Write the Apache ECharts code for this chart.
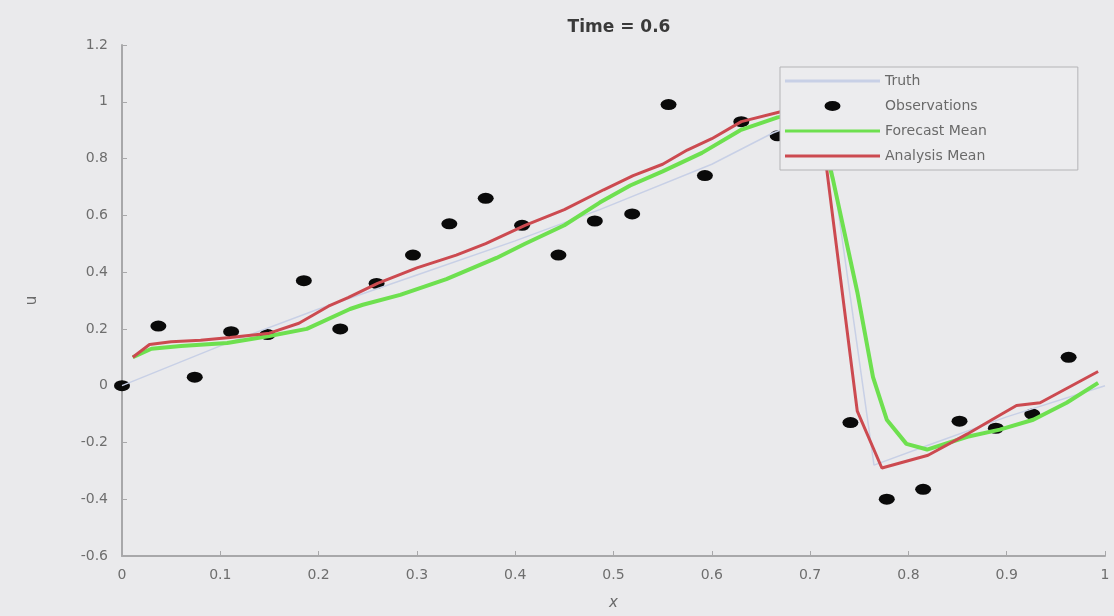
<!DOCTYPE html>
<html>
<head>
<meta charset="utf-8">
<script src="https://cdn.jsdelivr.net/npm/echarts@6/dist/echarts.min.js"></script>
<style>
  html, body { margin: 0; padding: 0; background: #eaeaec; }
  #chart { width: 1114px; height: 616px; }
</style>
</head>
<body>
<div id="chart"></div>
<script>
// observations, every 1/27 along x (the one near 0.70 sits under the legend)
const obsX = [0, 0.037, 0.074, 0.111, 0.148, 0.185, 0.222, 0.259, 0.296, 0.333, 0.370, 0.407, 0.444, 0.481,
  0.519, 0.556, 0.593, 0.630, 0.667, 0.704, 0.741, 0.778, 0.815, 0.852, 0.889, 0.926, 0.963]
const obsU = [0, 0.21, 0.03, 0.19, 0.18, 0.37, 0.20, 0.36, 0.46, 0.57, 0.66, 0.565, 0.46, 0.58,
  0.605, 0.99, 0.74, 0.93, 0.88, 0.98, -0.13, -0.40, -0.365, -0.125, -0.15, -0.10, 0.10]

// truth (thin light line)
const truthX = [0, 0.1, 0.2, 0.3, 0.4, 0.486, 0.6, 0.662, 0.70, 0.715, 0.765, 0.82, 0.9, 1.0]
const truthU = [0, 0.14, 0.27, 0.39, 0.51, 0.62, 0.78, 0.89, 0.94, 0.95, -0.28, -0.21, -0.11, 0.0]

// forecast mean (green)
const fcX = [0.011, 0.03, 0.06, 0.107, 0.15, 0.188, 0.232, 0.245, 0.283, 0.33, 0.381, 0.41, 0.45, 0.486,
  0.517, 0.55, 0.59, 0.629, 0.667, 0.706, 0.723, 0.748, 0.764, 0.778, 0.798, 0.819, 0.86, 0.893, 0.927, 0.961, 0.993]
const fcU = [0.10, 0.13, 0.14, 0.15, 0.175, 0.20, 0.27, 0.285, 0.32, 0.375, 0.45, 0.50, 0.565, 0.645,
  0.705, 0.755, 0.82, 0.90, 0.945, 0.97, 0.73, 0.33, 0.03, -0.12, -0.205, -0.225, -0.18, -0.155, -0.12, -0.06, 0.01]

// analysis mean (red)
const anX = [0.011, 0.028, 0.05, 0.08, 0.11, 0.15, 0.18, 0.21, 0.23, 0.26, 0.30, 0.34, 0.37, 0.41, 0.45,
  0.49, 0.52, 0.55, 0.575, 0.60, 0.63, 0.67, 0.705, 0.717, 0.748, 0.773, 0.82, 0.86, 0.895, 0.91, 0.934, 0.993]
const anU = [0.10, 0.145, 0.155, 0.16, 0.17, 0.185, 0.22, 0.28, 0.31, 0.36, 0.415, 0.46, 0.50, 0.565, 0.62,
  0.69, 0.74, 0.78, 0.83, 0.87, 0.93, 0.965, 0.98, 0.76, -0.09, -0.29, -0.245, -0.17, -0.10, -0.07, -0.06, 0.05]

const pairs = (xs, ys) => xs.map((x, i) => [x, ys[i]])
// flat bar used as legend sample for the line series, flat ellipse for the dots
const lineIcon = 'path://M0,0H100V3H0Z'
const dotIcon = 'path://M0,5A8,5,0,1,0,16,5A8,5,0,1,0,0,5Z'

const chart = echarts.init(document.getElementById('chart'))
chart.setOption({
  backgroundColor: '#eaeaec',
  animation: false,
  title: {
    text: 'Time = 0.6',
    left: 614,
    top: 14,
    textAlign: 'center',
    textStyle: { fontFamily: 'DejaVu Sans', fontSize: 17, fontWeight: 'bold', color: '#3a3a3a' },
  },
  grid: { left: 122, right: 9, top: 45, bottom: 57 },
  legend: {
    orient: 'vertical',
    left: 780,
    top: 67,
    padding: [7, 91, 7, 5],
    itemGap: 11,
    itemWidth: 95,
    itemHeight: 10,
    backgroundColor: '#ececee',
    borderColor: '#b4b4b6',
    borderWidth: 1,
    borderRadius: 0,
    textStyle: { fontFamily: 'DejaVu Sans', fontSize: 14, color: '#6a6a6a' },
    data: [
      { name: 'Truth', icon: lineIcon, itemStyle: { color: '#c8d0e6' } },
      { name: 'Observations', icon: dotIcon, itemStyle: { color: '#0a0a0a', opacity: 1 } },
      { name: 'Forecast Mean', icon: lineIcon, itemStyle: { color: '#6ee04f' } },
      { name: 'Analysis Mean', icon: lineIcon, itemStyle: { color: '#cc4a50' } },
    ],
  },
  xAxis: {
    type: 'value',
    min: 0,
    max: 1,
    interval: 0.1,
    name: 'x',
    nameLocation: 'middle',
    nameGap: 40,
    nameTextStyle: { fontFamily: 'DejaVu Sans', fontSize: 15, fontStyle: 'italic', color: '#6a6a6a' },
    axisLine: { onZero: false, lineStyle: { color: '#a8a8aa', width: 2 } },
    axisTick: { inside: true, length: 5, lineStyle: { color: '#a8a8aa' } },
    axisLabel: { fontFamily: 'DejaVu Sans', fontSize: 14, color: '#6e6e6e', margin: 12 },
    splitLine: { show: false },
  },
  yAxis: {
    type: 'value',
    min: -0.6,
    max: 1.2,
    interval: 0.2,
    name: 'u',
    nameLocation: 'middle',
    nameGap: 82,
    nameRotate: 90,
    nameTextStyle: { fontFamily: 'DejaVu Sans', fontSize: 15, color: '#6a6a6a' },
    axisLine: { show: true, onZero: false, lineStyle: { color: '#a8a8aa', width: 2 } },
    axisTick: { show: true, inside: true, length: 5, lineStyle: { color: '#a8a8aa' } },
    axisLabel: { fontFamily: 'DejaVu Sans', fontSize: 14, color: '#6e6e6e', margin: 14 },
    splitLine: { show: false },
  },
  series: [
    {
      name: 'Truth',
      type: 'line',
      data: pairs(truthX, truthU),
      showSymbol: false,
      symbol: 'none',
      lineStyle: { color: '#c8d0e6', width: 1.5 },
      itemStyle: { color: '#c8d0e6' },
    },
    {
      name: 'Observations',
      type: 'scatter',
      data: pairs(obsX, obsU),
      symbol: 'circle',
      symbolSize: [16, 11],
      itemStyle: { color: '#0a0a0a', opacity: 1 },
    },
    {
      name: 'Forecast Mean',
      type: 'line',
      data: pairs(fcX, fcU),
      showSymbol: false,
      symbol: 'none',
      lineStyle: { color: '#6ee04f', width: 4 },
      itemStyle: { color: '#6ee04f' },
    },
    {
      name: 'Analysis Mean',
      type: 'line',
      data: pairs(anX, anU),
      showSymbol: false,
      symbol: 'none',
      lineStyle: { color: '#cc4a50', width: 3 },
      itemStyle: { color: '#cc4a50' },
    },
  ],
})
</script>
</body>
</html>
